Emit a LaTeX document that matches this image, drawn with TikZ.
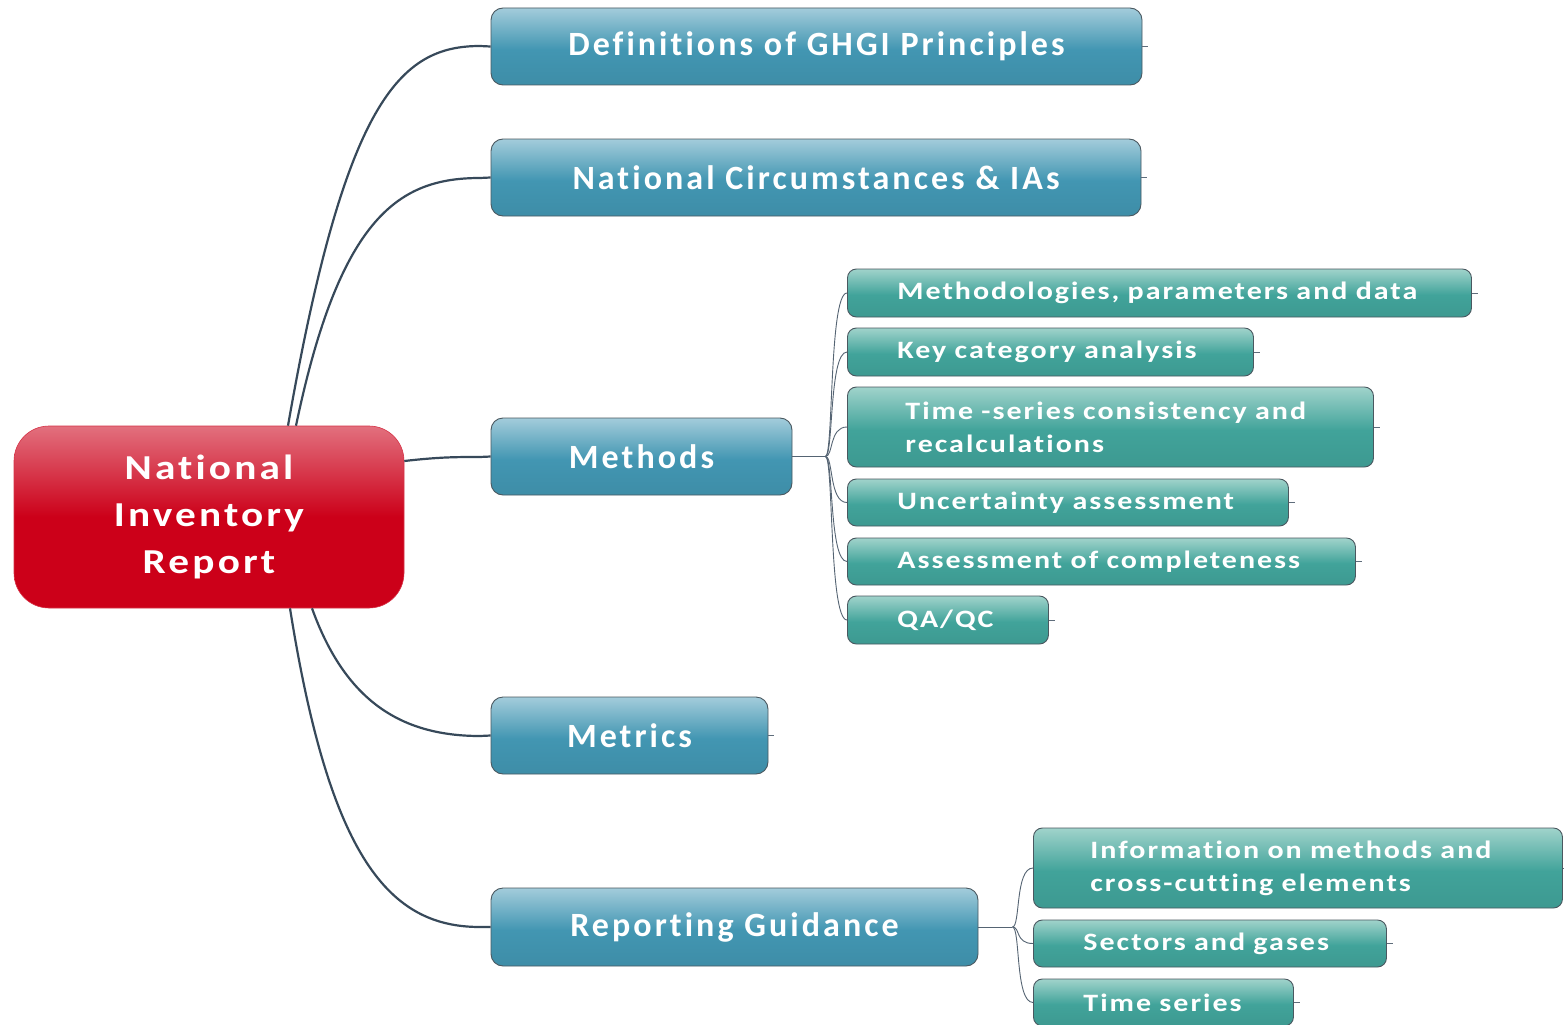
\documentclass[tikz,border=0pt]{standalone}
\usepackage{fontspec}
\newfontfamily\cfont{Carlito}[FakeStretch=1.18,LetterSpace=9,Ligatures=NoCommon]
\newfontfamily\bfont{Carlito}[LetterSpace=9,Ligatures=NoCommon]
\newfontfamily\tfont{Carlito}[FakeStretch=1.2,LetterSpace=8,Ligatures=NoCommon]
\usetikzlibrary{calc}
\definecolor{redL}{HTML}{E2707E}
\definecolor{redD}{HTML}{CC0019}
\definecolor{blueL}{HTML}{A3CCDB}
\definecolor{blueD}{HTML}{4296B2}
\definecolor{tealL}{HTML}{A0D3CB}
\definecolor{tealD}{HTML}{41A39A}
\definecolor{linec}{HTML}{37495A}
\definecolor{bordc}{HTML}{4A5860}
\pgfdeclareverticalshading{redsh}{100bp}{color(0bp)=(redD); color(50bp)=(redD); color(75bp)=(redL); color(100bp)=(redL)}
\pgfdeclareverticalshading{bluesh}{100bp}{color(0bp)=(blueD); color(25bp)=(blueD!94!black); color(48bp)=(blueD); color(75bp)=(blueL); color(100bp)=(blueL)}
\pgfdeclareverticalshading{tealsh}{100bp}{color(0bp)=(tealD); color(25bp)=(tealD!94!black); color(48bp)=(tealD); color(75bp)=(tealL); color(100bp)=(tealL)}
\tikzset{
  centralbox/.style={shading=redsh, rounded corners=35pt, draw=redD!80!white, line width=0.6pt,
    minimum width=390pt, minimum height=182pt, align=center, text=white,
    font=\cfont\bfseries\fontsize{35}{47}\selectfont},
  bluebox/.style={shading=bluesh, rounded corners=12pt, draw=bordc, line width=0.9pt,
    minimum height=77pt, inner ysep=0pt, text=white,
    font=\bfont\bfseries\fontsize{34}{40}\selectfont},
  tealbox/.style={shading=tealsh, rounded corners=9pt, draw=bordc, line width=0.9pt,
    anchor=west, inner xsep=50pt, inner ysep=0pt, minimum height=47pt, align=left, text=white,
    font=\tfont\bfseries\fontsize{25}{33}\selectfont},
  mainline/.style={draw=linec, line width=2.2pt},
  branchline/.style={draw=linec!85!white, line width=0.9pt},
  stubline/.style={draw=linec!80!white, line width=0.8pt},
}
\begin{document}
\begin{tikzpicture}[x=1pt,y=-1pt]
\useasboundingbox[fill=white] (0,0) rectangle (1564,1025);
% central
\node[centralbox] (nir) at (209,517) {\raisebox{-3pt}{National}\\\raisebox{-3pt}{Inventory}\\\raisebox{-3pt}{Report}};
% main branches
\node[bluebox, minimum width=651pt] (def) at (816.5,46.5) {\raisebox{-2pt}{Definitions of GHGI Principles}};
\node[bluebox, minimum width=650pt] (nat) at (816,177.5) {National Circumstances \& IAs};
\node[bluebox, minimum width=301pt] (meth) at (641.5,456.5) {Methods};
\node[bluebox, minimum width=277pt] (metr) at (629.5,735.5) {Metrics};
\node[bluebox, minimum width=487pt, minimum height=78pt] (rep) at (734.5,927) {Reporting Guidance};
% methods children
\node[tealbox, text width=524pt, minimum height=48pt] (m1) at (847,293) {\mbox{Methodologies, parameters and data}};
\node[tealbox, text width=306pt, minimum height=48pt] (m2) at (847,352) {\mbox{Key category analysis}};
\node[tealbox, inner xsep=58pt, text width=410pt, minimum height=80pt] (m3) at (847,427) {\mbox{Time -series consistency and}\\\mbox{recalculations}};
\node[tealbox, text width=341pt] (m4) at (847,502.5) {\mbox{Uncertainty assessment}};
\node[tealbox, text width=408pt] (m5) at (847,561.5) {\mbox{Assessment of completeness}};
\node[tealbox, text width=101pt, minimum height=48pt] (m6) at (847,620) {\mbox{QA/QC}};
% reporting children
\node[tealbox, inner xsep=57pt, text width=415pt, minimum height=80pt] (r1) at (1033,868) {\mbox{Information on methods and}\\\mbox{cross-cutting elements}};
\node[tealbox, text width=253pt] (r2) at (1033,943.5) {\mbox{Sectors and gases}};
\node[tealbox, text width=160pt] (r3) at (1033,1002.5) {\mbox{Time series}};
% main connectors
\draw[mainline] ([xshift=79pt]nir.north) .. controls (345,100) and (400,46) .. (480,46) -- (def.west);
\draw[mainline] ([xshift=87pt]nir.north) .. controls (340,215) and (400,178) .. (480,178) -- (nat.west);
\draw[mainline] ([yshift=56pt]nir.east) .. controls (440,457) and (455,457) .. (480,457) -- (meth.west);
\draw[mainline] ([xshift=103pt]nir.south) .. controls (345,700) and (400,736) .. (480,736) -- (metr.west);
\draw[mainline] ([xshift=81pt]nir.south) .. controls (330,860) and (390,927) .. (480,927) -- (rep.west);
% methods branch
\coordinate (mj) at ([xshift=33pt]meth.east);
\draw[branchline] (meth.east) -- (mj);
\foreach \c in {m1,m2,m3,m4,m5,m6}
  \draw[branchline] (mj) .. controls +(8,0) and +(-18,0) .. (\c.west);
% reporting branch
\coordinate (rj) at ([xshift=34pt]rep.east);
\draw[branchline] (rep.east) -- (rj);
\foreach \c in {r1,r2,r3}
  \draw[branchline] (rj) .. controls +(8,0) and +(-18,0) .. (\c.west);
% stubs
\foreach \c in {def,nat,metr,m1,m2,m3,m4,m5,m6,r1,r2,r3}
  \draw[stubline] (\c.east) -- ++(6,0);
\end{tikzpicture}
\end{document}
